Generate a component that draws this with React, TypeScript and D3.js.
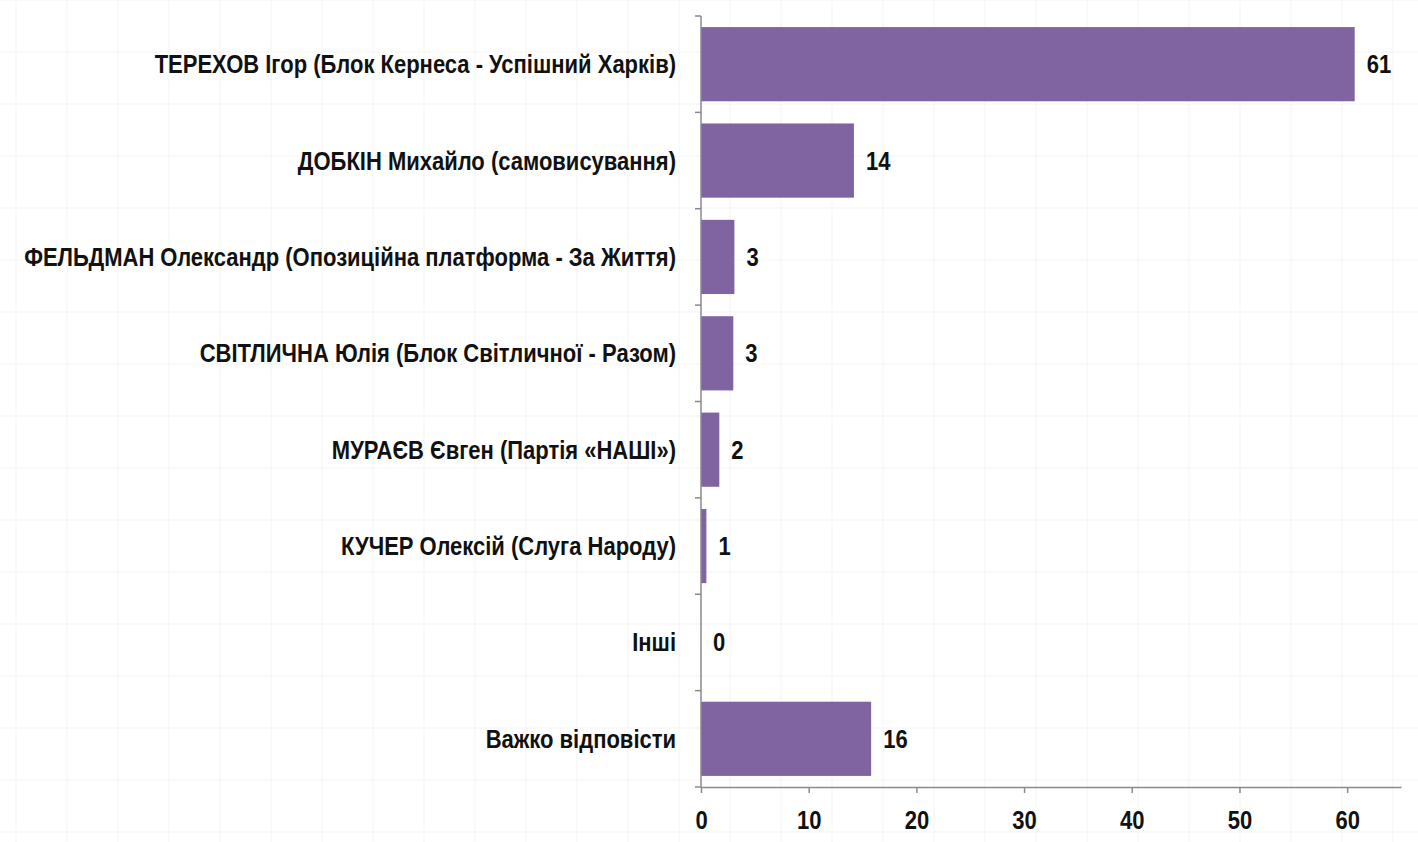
import React, { useEffect, useRef } from 'react';
import * as d3 from 'd3';

// Candidate labels and values (per cent)
const candidates = [
  'ТЕРЕХОВ Ігор (Блок Кернеса - Успішний Харків)',
  'ДОБКІН Михайло (самовисування)',
  'ФЕЛЬДМАН Олександр (Опозиційна платформа - За Життя)',
  'СВІТЛИЧНА Юлія (Блок Світличної - Разом)',
  'МУРАЄВ Євген (Партія «НАШІ»)',
  'КУЧЕР Олексій (Слуга Народу)',
  'Інші',
  'Важко відповісти',
];
const values = [60.7, 14.2, 3.1, 3.0, 1.7, 0.5, 0, 15.8];
const xTicks = [0, 10, 20, 30, 40, 50, 60];

const W = 1418;
const H = 842;
const FONT = '"Liberation Sans", Arial, sans-serif';
const FONT_SIZE = 25;
const SQUEEZE = 0.88; // narrow look of the original typeface

const App: React.FC = () => {
  const svgRef = useRef<SVGSVGElement>(null);

  useEffect(() => {
    const svg = d3.select(svgRef.current);
    svg.selectAll('*').remove();

    svg.append('rect').attr('width', W).attr('height', H).attr('fill', '#ffffff');

    // faint background grid
    const grid = svg.append('g').attr('stroke', '#f3f3f3').attr('stroke-width', 1);
    d3.range(16, W, 51).forEach(x => {
      grid.append('line').attr('x1', x).attr('x2', x).attr('y1', 0).attr('y2', H);
    });
    d3.range(0, H, 52).forEach(y => {
      grid.append('line').attr('x1', 0).attr('x2', W).attr('y1', y).attr('y2', y);
    });

    const left = 701;
    const right = 1401;
    const top = 16;
    const bottom = 787;

    const x = d3.scaleLinear().domain([0, 65]).range([left, right]);
    const y = d3.scaleBand<string>()
      .domain(candidates)
      .range([top, bottom])
      .paddingInner(0.23)
      .paddingOuter(0.115);

    const step = y.step();
    const gap = (step - y.bandwidth()) / 2;

    // bars
    svg.append('g')
      .selectAll('rect')
      .data(values)
      .join('rect')
      .attr('x', x(0))
      .attr('y', (_, i) => y(candidates[i])!)
      .attr('width', d => x(d) - x(0))
      .attr('height', y.bandwidth())
      .attr('fill', '#8064a2');

    // value labels
    svg.append('g')
      .selectAll('text')
      .data(values)
      .join('text')
      .attr('transform', (d, i) =>
        `translate(${x(d) + 12},${y(candidates[i])! + y.bandwidth() / 2}) scale(${SQUEEZE},1)`)
      .attr('dy', '0.36em')
      .attr('font-family', FONT)
      .attr('font-weight', 'bold')
      .attr('font-size', FONT_SIZE)
      .attr('fill', '#111')
      .text(d => Math.round(d));

    // category labels
    svg.append('g')
      .selectAll('text')
      .data(candidates)
      .join('text')
      .attr('transform', d =>
        `translate(${left - 25},${y(d)! + y.bandwidth() / 2}) scale(${SQUEEZE},1)`)
      .attr('dy', '0.36em')
      .attr('text-anchor', 'end')
      .attr('font-family', FONT)
      .attr('font-weight', 'bold')
      .attr('font-size', FONT_SIZE)
      .attr('fill', '#111')
      .text(d => d);

    const axisColor = '#8a8a8a';

    // y axis line and boundary ticks
    const yAxis = svg.append('g').attr('stroke', axisColor).attr('stroke-width', 1.5);
    yAxis.append('line').attr('x1', left).attr('x2', left).attr('y1', top).attr('y2', bottom);
    const bounds = candidates.map(c => y(c)! - gap).concat([bottom]);
    bounds.forEach(b => {
      yAxis.append('line').attr('x1', left - 6).attr('x2', left).attr('y1', b).attr('y2', b);
    });

    // x axis
    const xAxis = svg.append('g').attr('transform', `translate(0,${bottom})`)
      .call(d3.axisBottom(x).tickValues(xTicks).tickSize(6).tickSizeOuter(0));
    xAxis.select('.domain').attr('stroke', axisColor).attr('stroke-width', 1.5);
    xAxis.selectAll('.tick line').attr('stroke', axisColor).attr('stroke-width', 1.5);
    xAxis.selectAll('.tick text')
      .attr('y', 0)
      .attr('dy', 0)
      .attr('transform', `translate(0,42) scale(${SQUEEZE},1)`)
      .attr('font-family', FONT)
      .attr('font-weight', 'bold')
      .attr('font-size', FONT_SIZE)
      .attr('fill', '#111');
  }, []);

  return (
    <svg
      ref={svgRef}
      width={W}
      height={H}
      style={{ position: 'absolute', left: 0, top: 0, display: 'block' }}
    />
  );
};

export default App;
